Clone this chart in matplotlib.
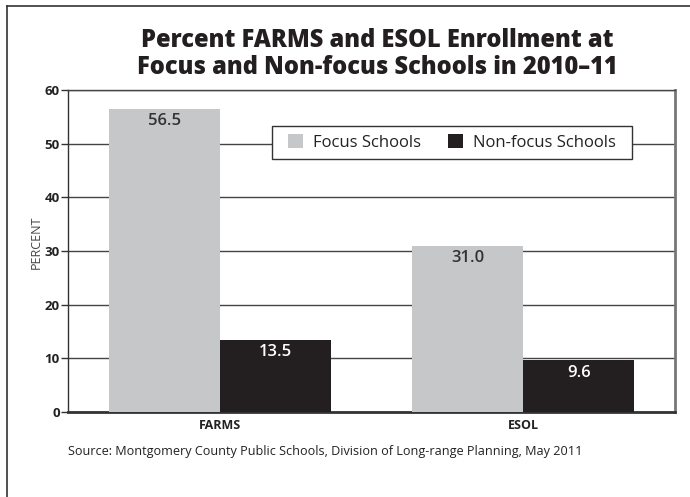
import matplotlib
matplotlib.use("Agg")
import matplotlib.pyplot as plt
from matplotlib.lines import Line2D
from matplotlib.patches import Patch, Rectangle
import numpy as np

# data
categories = ["FARMS", "ESOL"]
focus_values = [56.5, 31.0]
nonfocus_values = [13.5, 9.6]
series_names = ["Focus Schools", "Non-focus Schools"]
y_ticks = [0, 10, 20, 30, 40, 50, 60]

light = "#c6c7c9"
dark = "#231f20"

plt.rcParams["font.family"] = ["Open Sans", "DejaVu Sans"]

fig = plt.figure(figsize=(6.9, 4.97), dpi=100)
ax = fig.add_axes([68 / 690, 1 - 412 / 497, 607 / 690, 322 / 497])

x = np.arange(len(categories))
w = 0.366
b1 = ax.bar(x - w / 2, focus_values, w, color=light, zorder=3)
b2 = ax.bar(x + w / 2, nonfocus_values, w, color=dark, zorder=3)

# value labels just inside the top of each bar
for bars, vals, col in [(b1, focus_values, "#333333"), (b2, nonfocus_values, "white")]:
    for rect, v in zip(bars, vals):
        ax.annotate(f"{v:.1f}", (rect.get_x() + rect.get_width() / 2, v),
                    xytext=(0, -9), textcoords="offset points",
                    ha="center", va="center", fontsize=12, fontweight="semibold",
                    color=col, zorder=4)

ax.set_xlim(-0.5, 1.5)
ax.set_ylim(0, 60)
ax.set_yticks(y_ticks)
ax.set_xticks(x)
ax.set_xticklabels(categories, fontsize=9, fontweight="bold", color="#222222")
ax.tick_params(axis="x", length=0, pad=5)
ax.tick_params(axis="y", length=5, width=1, color="#333333", pad=1,
               labelsize=9.5, labelcolor="#222222")
for lab in ax.get_yticklabels():
    lab.set_fontweight("bold")
ax.yaxis.grid(True, color="#444444", linewidth=1.0, zorder=0)
ax.set_axisbelow(True)

ax.spines["left"].set_color("#333333")
ax.spines["left"].set_linewidth(1.0)
ax.spines["bottom"].set_color("#333333")
ax.spines["bottom"].set_linewidth(2.0)
ax.spines["top"].set_color("#444444")
ax.spines["top"].set_linewidth(1.0)
ax.spines["right"].set_color("#777777")
ax.spines["right"].set_linewidth(2.0)

ax.set_ylabel("PERCENT", fontsize=9, color="#444444")
ax.yaxis.set_label_coords((43 - 68) / 607, (412 - 242) / 322)

# legend box drawn separately so its padding matches the reference
ax.add_patch(Rectangle((272 / 690, 1 - 159 / 497), 360 / 690, 33 / 497,
                       transform=fig.transFigure, facecolor="white", edgecolor="#333333",
                       linewidth=1.0, zorder=4, clip_on=False))
handles = [Patch(facecolor=light, edgecolor="none"), Patch(facecolor=dark, edgecolor="none")]
leg = ax.legend(handles, series_names, loc="center",
                bbox_to_anchor=((452 - 68) / 607, (412 - 142.5) / 322),
                ncol=2, prop={"size": 12, "weight": "medium"}, frameon=False, handlelength=0.9,
                handleheight=0.9, handletextpad=0.6, columnspacing=1.6, borderpad=0.45)
for t in leg.get_texts():
    t.set_color("#222222")
leg.set_zorder(5)

fig.text(377 / 690, 1 - 54 / 497, "Percent FARMS and ESOL Enrollment at\nFocus and Non-focus Schools in 2010\u201311",
         ha="center", va="center", fontsize=17, fontweight="heavy", color="#231f20",
         linespacing=1.12)

fig.text(68 / 690, 1 - 452 / 497,
         "Source: Montgomery County Public Schools, Division of Long-range Planning, May 2011",
         ha="left", va="center", fontsize=9.1, color="#222222")

# outer frame (left and top edges visible)
fig.add_artist(Line2D([7 / 690, 7 / 690], [0, 1 - 6 / 497], color="#333333", linewidth=1.2))
fig.add_artist(Line2D([7 / 690, 1], [1 - 6 / 497, 1 - 6 / 497], color="#333333", linewidth=1.2))

fig.savefig("out.png", dpi=100)
